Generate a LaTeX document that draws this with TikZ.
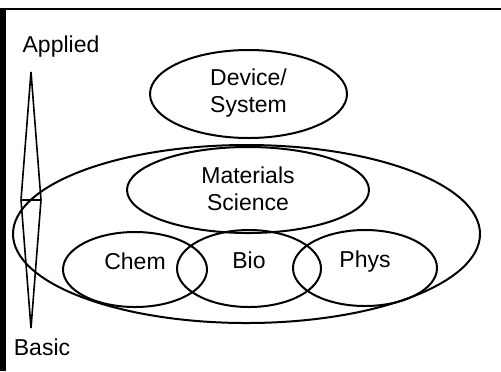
\documentclass[tikz,border=0pt]{standalone}
\usepackage{fontspec}
\setmainfont{Liberation Sans}
\begin{document}
\begin{tikzpicture}[x=0.5pt,y=-0.5pt,line width=1pt,
  every node/.style={font=\fontsize{11.5}{13.5}\selectfont,align=center}]
\useasboundingbox (0,0) rectangle (501,371);
\fill (0,8) rectangle (6,371);
\draw[line width=1.25pt] (0,9)--(501,9);
\draw[line width=0.8pt] (31,72)--(21,200)--(31,328)--(41,200)--cycle (21,200)--(41,200);
\node (applied) at (61,47) {Applied};
\node (basic) at (42,347) {Basic};
\draw (248.5,94) ellipse (98.5 and 44);
\node (device) at (248.5,93) {Device/\\System};
\draw (246.5,234) ellipse (233.5 and 89);
\draw (248,190) ellipse (121 and 43);
\node (materials) at (248,189) {Materials\\Science};
\draw (135,269.5) ellipse (72 and 37.5);
\draw (249,268.5) ellipse (72 and 38.5);
\draw (365,268) ellipse (72 and 38);
\node[anchor=base] (chem) at (135,269) {Chem};
\node[anchor=base] (bio) at (249,268) {Bio};
\node[anchor=base] (phys) at (365,267) {Phys};
\end{tikzpicture}
\end{document}
